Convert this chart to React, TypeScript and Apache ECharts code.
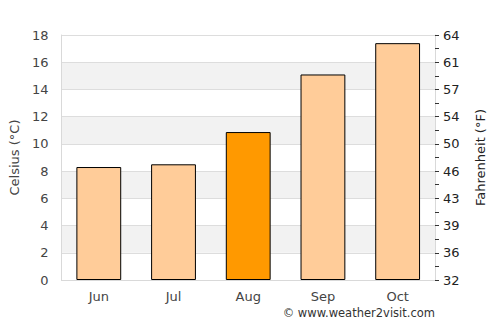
import React, { useEffect, useRef } from "react";
import * as echarts from "echarts";

const months = ["Jun", "Jul", "Aug", "Sep", "Oct"];
const celsius = [8.3, 8.5, 10.87, 15.1, 17.4];
const highlightIndex = 2;
const barColor = "#FFCC99";
const highlightColor = "#FF9900";

export default function App() {
  const ref = useRef<HTMLDivElement>(null);
  useEffect(() => {
    const chart = echarts.init(ref.current!, null, { renderer: "svg" });
    const font = "DejaVu Sans";
    chart.setOption({
      animation: false,
      textStyle: { fontFamily: font },
      grid: { left: 60, right: 65, top: 35, bottom: 45 },
      xAxis: {
        type: "category",
        data: months,
        axisLine: { show: true, lineStyle: { color: "#d9d9d9" } },
        axisTick: { show: false },
        axisLabel: { color: "#444", fontSize: 13, margin: 10, fontFamily: font },
      },
      yAxis: [
        {
          type: "value",
          min: 0,
          max: 18,
          interval: 2,
          name: "Celsius (°C)",
          nameLocation: "middle",
          nameGap: 32,
          nameTextStyle: { color: "#444", fontSize: 13, fontFamily: font },
          axisLine: { show: true, lineStyle: { color: "#d9d9d9" } },
          axisTick: { show: false },
          axisLabel: { color: "#444", fontSize: 13, margin: 13, fontFamily: font },
          splitLine: { show: true, lineStyle: { color: "#dddddd" } },
          splitArea: { show: true, areaStyle: { color: ["#ffffff", "#f2f2f2"] } },
        },
        {
          type: "value",
          min: 0,
          max: 18,
          interval: 2,
          position: "right",
          name: "Fahrenheit (°F)",
          nameLocation: "middle",
          nameGap: 39,
          nameRotate: 90,
          nameTextStyle: { color: "#222", fontSize: 13, fontFamily: font },
          axisLine: { show: true, lineStyle: { color: "#d9d9d9" } },
          axisTick: { show: true, length: 4, inside: false, lineStyle: { color: "#333" } },
          minorTick: { show: true, splitNumber: 2, length: 4, lineStyle: { color: "#333" } },
          axisLabel: {
            color: "#222",
            fontSize: 13,
            margin: 8,
            fontFamily: font,
            formatter: (v: number) => String(Math.round(v * 1.8 + 32)),
          },
          splitLine: { show: false },
          splitArea: { show: false },
        },
      ],
      series: [
        {
          type: "bar",
          yAxisIndex: 0,
          barWidth: "60%",
          data: celsius.map((v, i) => ({
            value: v,
            itemStyle: {
              color: i === highlightIndex ? highlightColor : barColor,
              borderColor: "#000",
              borderWidth: 1,
            },
          })),
        },
      ],
      graphic: [
        {
          type: "text",
          right: 65,
          top: 307,
          style: {
            text: "© www.weather2visit.com",
            fill: "#333",
            fontSize: 11.5,
            fontFamily: font,
          },
        },
      ],
    });
    return () => chart.dispose();
  }, []);
  return (
    <div
      ref={ref}
      style={{ position: "fixed", left: 0, top: 0, width: 500, height: 325, background: "#fff" }}
    />
  );
}
